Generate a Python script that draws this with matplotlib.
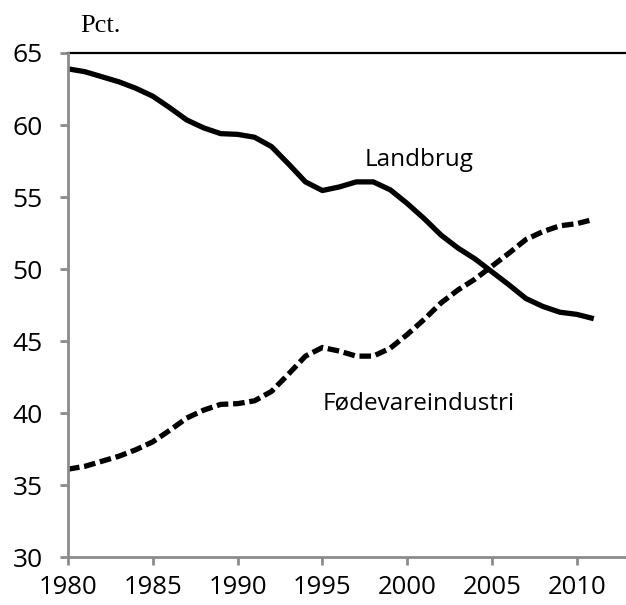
from matplotlib import pyplot as plt

years = list(range(1980, 2012))
landbrug = [63.9, 63.7, 63.35, 63.0, 62.55, 62.0, 61.2, 60.35, 59.8, 59.4,
            59.35, 59.15, 58.5, 57.3, 56.05, 55.45, 55.7, 56.05, 56.05, 55.5,
            54.55, 53.5, 52.35, 51.45, 50.7, 49.8, 48.9, 47.95, 47.4, 47.0,
            46.85, 46.55]
foedevare = [36.1, 36.3, 36.65, 37.0, 37.45, 38.0, 38.8, 39.65, 40.2, 40.6,
             40.65, 40.85, 41.5, 42.7, 43.95, 44.55, 44.3, 43.95, 43.95, 44.5,
             45.45, 46.5, 47.65, 48.55, 49.3, 50.2, 51.1, 52.05, 52.6, 53.0,
             53.15, 53.45]
yticks = [30, 35, 40, 45, 50, 55, 60, 65]
xticks = [1980, 1985, 1990, 1995, 2000, 2005, 2010]

plt.rcParams['font.family'] = ['Open Sans', 'DejaVu Sans']
grey = '#8c8c8c'

fig = plt.figure(figsize=(6.26, 6.05), dpi=100)
ax = fig.add_axes([0.1086, 0.0793, 0.8914, 0.8331])

ax.plot(years, landbrug, color='black', lw=3.8, solid_capstyle='butt',
        solid_joinstyle='round')
ax.plot(years, foedevare, color='black', lw=3.8, linestyle=(0, (2.2, 0.9)),
        dash_capstyle='butt')

ax.set_xlim(1980, 2012.9)
ax.set_ylim(30, 65)
ax.set_xticks(xticks)
ax.set_yticks(yticks)
ax.axhline(65, color='black', lw=1.6, clip_on=False)

for side in ['top', 'right']:
    ax.spines[side].set_visible(False)
for side in ['left', 'bottom']:
    ax.spines[side].set_color(grey)
    ax.spines[side].set_linewidth(2.0)
ax.tick_params(axis='both', colors=grey, width=2.0, length=6,
               labelcolor='black')
ax.tick_params(axis='y', pad=12, labelsize=19)
ax.tick_params(axis='x', pad=7, labelsize=18.5)

ax.text(2000.7, 57.15, 'Landbrug', fontsize=17.5, ha='center',
        va='baseline')
ax.text(2000.7, 40.28, 'Fødevareindustri', fontsize=17.5, ha='center',
        va='baseline')
fig.text(80 / 626, 1 - 32 / 605, 'Pct.', family='Liberation Serif',
         fontsize=19, ha='left', va='baseline')

plt.savefig('out.png', dpi=100)
